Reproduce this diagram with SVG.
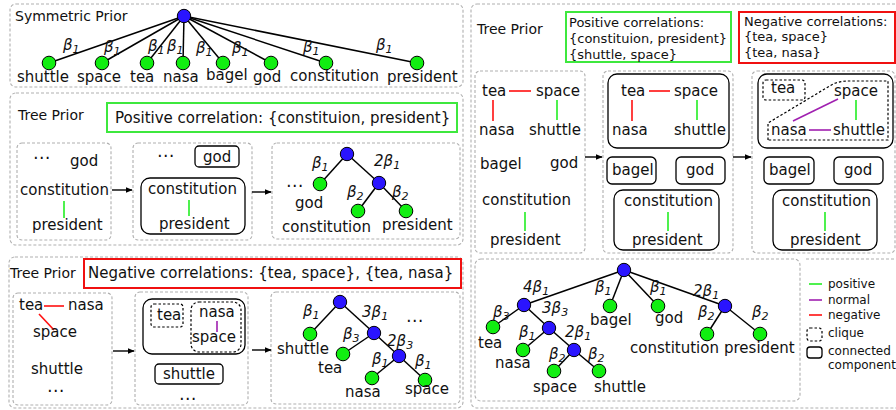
<svg xmlns="http://www.w3.org/2000/svg" width="896" height="410" viewBox="0 0 896 410">
<defs>
<style>
text{font-family:"DejaVu Sans","Liberation Sans",sans-serif;font-size:15px;fill:#111}
.h{font-size:14px}
.sm{font-size:13px}
.lg{font-size:12px}
.dots{font-size:17px}
.b{font-style:italic}
.panel{fill:none;stroke:#b0b0b0;stroke-width:1.1;stroke-dasharray:3 2}
.cc{fill:none;stroke:#000;stroke-width:1.3}
.cl{fill:none;stroke:#000;stroke-width:1.2;stroke-dasharray:2.5 2}
.gbox{fill:none;stroke:#3ee83e;stroke-width:2}
.rbox{fill:none;stroke:#f01010;stroke-width:2}
.e{stroke:#000;stroke-width:1.5}
.pos{stroke:#22ee22;stroke-width:1.6}
.neg{stroke:#ff1010;stroke-width:1.6}
.nor{stroke:#a020b0;stroke-width:1.6}
.g{fill:#11ee11;stroke:#000;stroke-width:1}
.bl{fill:#2a14ff;stroke:#000;stroke-width:1}
.ar{stroke:#000;stroke-width:1.4;marker-end:url(#ah)}
</style>
<marker id="ah" viewBox="0 0 10 10" refX="9" refY="5" markerWidth="7" markerHeight="7" markerUnits="userSpaceOnUse" orient="auto"><path d="M0,1 L10,5 L0,9 z" fill="#000"/></marker>
</defs>

<!-- panels -->
<g id="panels">
<rect class="panel" x="10" y="4" width="453" height="83" rx="6"/>
<rect class="panel" x="10" y="93" width="453" height="152" rx="6"/>
<rect class="panel" x="17" y="143" width="94" height="97" rx="5"/>
<rect class="panel" x="133" y="143" width="119" height="97" rx="5"/>
<rect class="panel" x="272" y="143" width="188" height="96" rx="5"/>
<rect class="panel" x="9" y="257" width="454" height="151" rx="6"/>
<rect class="panel" x="13" y="293" width="99" height="112" rx="5"/>
<rect class="panel" x="135" y="292" width="113" height="113" rx="5"/>
<rect class="panel" x="271" y="292" width="189" height="112" rx="5"/>
<rect class="panel" x="471" y="4" width="440" height="404" rx="6"/>
<rect class="panel" x="475" y="71" width="110" height="182" rx="5"/>
<rect class="panel" x="603" y="71" width="130" height="182" rx="5"/>
<rect class="panel" x="752" y="71" width="143" height="182" rx="5"/>
<rect class="panel" x="475" y="259" width="325" height="142" rx="6"/>
<path class="panel" d="M806 259 H896"/>
</g>

<!-- connectors -->
<g id="connectors">
<!-- symmetric prior -->
<line class="e" x1="184" y1="16" x2="49" y2="63"/>
<line class="e" x1="184" y1="16" x2="102" y2="63"/>
<line class="e" x1="184" y1="16" x2="147" y2="63"/>
<line class="e" x1="184" y1="16" x2="183" y2="63"/>
<line class="e" x1="184" y1="16" x2="223" y2="63"/>
<line class="e" x1="184" y1="16" x2="271" y2="63"/>
<line class="e" x1="184" y1="16" x2="326" y2="63"/>
<line class="e" x1="184" y1="16" x2="417" y2="63"/>
<!-- positive panel -->
<line class="pos" x1="64" y1="201" x2="64" y2="218"/>
<line class="pos" x1="189" y1="200" x2="189" y2="216"/>
<line class="ar" x1="112" y1="190" x2="132" y2="190"/>
<line class="ar" x1="252" y1="192" x2="271" y2="192"/>
<line class="e" x1="347" y1="154" x2="320" y2="184"/>
<line class="e" x1="347" y1="154" x2="379" y2="183"/>
<line class="e" x1="379" y1="183" x2="358" y2="211"/>
<line class="e" x1="379" y1="183" x2="406" y2="211"/>
<!-- negative panel -->
<line class="neg" x1="44" y1="306" x2="64" y2="306"/>
<line class="neg" x1="39" y1="314" x2="54" y2="330"/>
<line class="nor" x1="217" y1="321" x2="217" y2="332"/>
<line class="ar" x1="113" y1="351" x2="134" y2="351"/>
<line class="ar" x1="252" y1="350" x2="271" y2="350"/>
<line class="e" x1="340" y1="302" x2="310" y2="334"/>
<line class="e" x1="340" y1="302" x2="374" y2="333"/>
<line class="e" x1="374" y1="333" x2="343" y2="354"/>
<line class="e" x1="374" y1="333" x2="399" y2="356"/>
<line class="e" x1="399" y1="356" x2="372" y2="378"/>
<line class="e" x1="399" y1="356" x2="425" y2="380"/>
<!-- right top -->
<line class="neg" x1="509" y1="91" x2="531" y2="91"/>
<line class="neg" x1="493" y1="100" x2="493" y2="121"/>
<line class="pos" x1="557" y1="100" x2="557" y2="120"/>
<line class="pos" x1="525" y1="212" x2="525" y2="231"/>
<line class="ar" x1="585" y1="157" x2="602" y2="157"/>
<line class="neg" x1="649" y1="91" x2="670" y2="91"/>
<line class="neg" x1="632" y1="100" x2="632" y2="121"/>
<line class="pos" x1="697" y1="100" x2="697" y2="120"/>
<line class="pos" x1="668" y1="212" x2="668" y2="231"/>
<line class="ar" x1="733" y1="157" x2="751" y2="157"/>
<line class="pos" x1="856" y1="100" x2="856" y2="120"/>
<line class="nor" x1="793" y1="121" x2="838" y2="99"/>
<line class="nor" x1="809" y1="130" x2="831" y2="130"/>
<line class="pos" x1="825" y1="212" x2="825" y2="231"/>
<!-- right bottom tree -->
<line class="e" x1="624" y1="270" x2="524" y2="305"/>
<line class="e" x1="624" y1="270" x2="610" y2="306"/>
<line class="e" x1="624" y1="270" x2="658" y2="306"/>
<line class="e" x1="624" y1="270" x2="725" y2="306"/>
<line class="e" x1="524" y1="305" x2="493" y2="327"/>
<line class="e" x1="524" y1="305" x2="549" y2="328"/>
<line class="e" x1="549" y1="328" x2="523" y2="350"/>
<line class="e" x1="549" y1="328" x2="574" y2="350"/>
<line class="e" x1="574" y1="350" x2="554" y2="371"/>
<line class="e" x1="574" y1="350" x2="599" y2="371"/>
<line class="e" x1="725" y1="306" x2="707" y2="334"/>
<line class="e" x1="725" y1="306" x2="760" y2="334"/>
</g>

<!-- symmetric prior -->
<g id="symmetric-prior">
<text class="h" x="15" y="21">Symmetric Prior</text>
<circle class="bl" cx="184" cy="16" r="6.7"/>
<circle class="g" cx="49" cy="63" r="6.8"/>
<circle class="g" cx="102" cy="63" r="6.8"/>
<circle class="g" cx="147" cy="63" r="6.8"/>
<circle class="g" cx="183" cy="63" r="6.8"/>
<circle class="g" cx="223" cy="63" r="6.8"/>
<circle class="g" cx="271" cy="63" r="6.8"/>
<circle class="g" cx="326" cy="63" r="6.8"/>
<circle class="g" cx="417" cy="63" r="6.8"/>
<text class="b" x="63" y="50">β<tspan dy="3" font-size="11">1</tspan></text>
<text class="b" x="104" y="52">β<tspan dy="3" font-size="11">1</tspan></text>
<text class="b" x="148" y="51">β<tspan dy="3" font-size="11">1</tspan></text>
<text class="b" x="167" y="51">β<tspan dy="3" font-size="11">1</tspan></text>
<text class="b" x="196" y="53">β<tspan dy="3" font-size="11">1</tspan></text>
<text class="b" x="232" y="53">β<tspan dy="3" font-size="11">1</tspan></text>
<text class="b" x="303" y="52">β<tspan dy="3" font-size="11">1</tspan></text>
<text class="b" x="376" y="50">β<tspan dy="3" font-size="11">1</tspan></text>
<text x="17" y="82">shuttle</text>
<text x="77" y="82">space</text>
<text x="130" y="82">tea</text>
<text x="163" y="82">nasa</text>
<text x="206" y="80">bagel</text>
<text x="253" y="82">god</text>
<text x="290" y="81">constitution</text>
<text x="387" y="82">president</text>
</g>

<!-- positive tree prior -->
<g id="positive-prior">
<text class="h" x="18" y="120">Tree Prior</text>
<rect class="gbox" x="107" y="103" width="350" height="29"/>
<text x="115" y="123">Positive correlation: {constituion, president}</text>
</g>
<g id="pos-step1">
<text class="dots" x="33" y="163">⋯</text>
<text x="70" y="166">god</text>
<text x="20" y="195">constitution</text>
<text x="32" y="230">president</text>
</g>
<g id="pos-step2">
<text class="dots" x="157" y="161">⋯</text>
<rect class="cc" x="195" y="146" width="44" height="21" rx="4"/>
<text x="203" y="162">god</text>
<rect class="cc" x="141" y="178" width="104" height="56" rx="9"/>
<text x="148" y="194">constitution</text>
<text x="159" y="229">president</text>
</g>
<g id="pos-step3">
<circle class="bl" cx="347" cy="154" r="6.7"/>
<circle class="g" cx="320" cy="184" r="6.8"/>
<circle class="bl" cx="379" cy="183" r="6.7"/>
<circle class="g" cx="358" cy="211" r="6.8"/>
<circle class="g" cx="406" cy="211" r="6.8"/>
<text class="b" x="312" y="168">β<tspan dy="3" font-size="11">1</tspan></text>
<text class="b" x="374" y="166">2β<tspan dy="3" font-size="11">1</tspan></text>
<text class="b" x="347" y="197">β<tspan dy="3" font-size="11">2</tspan></text>
<text class="b" x="392" y="197">β<tspan dy="3" font-size="11">2</tspan></text>
<text class="dots" x="286" y="191">⋯</text>
<text x="295" y="208">god</text>
<text x="282" y="232">constitution</text>
<text x="382" y="230">president</text>
</g>

<!-- negative tree prior -->
<g id="negative-prior">
<text class="h" x="10" y="278">Tree Prior</text>
<rect class="rbox" x="84" y="259" width="377" height="29"/>
<text x="88" y="278">Negative correlations: {tea, space}, {tea, nasa}</text>
</g>
<g id="neg-step1">
<text x="19" y="310">tea</text>
<text x="68" y="310">nasa</text>
<text x="33" y="337">space</text>
<text x="31" y="374">shuttle</text>
<text class="dots" x="47" y="396">⋯</text>
</g>
<g id="neg-step2">
<rect class="cc" x="143" y="299" width="102" height="55" rx="9"/>
<rect class="cl" x="151" y="304" width="32" height="23" rx="3"/>
<text x="157" y="320">tea</text>
<rect class="cl" x="191" y="302" width="50" height="50" rx="8"/>
<text x="199" y="317">nasa</text>
<text x="192" y="342">space</text>
<rect class="cc" x="155" y="364" width="68" height="20" rx="4"/>
<text x="163" y="379">shuttle</text>
<text class="dots" x="179" y="404">⋯</text>
</g>
<g id="neg-step3">
<circle class="bl" cx="340" cy="302" r="6.7"/>
<circle class="g" cx="310" cy="334" r="6.8"/>
<circle class="bl" cx="374" cy="333" r="6.7"/>
<circle class="g" cx="343" cy="354" r="6.8"/>
<circle class="bl" cx="399" cy="356" r="6.7"/>
<circle class="g" cx="372" cy="378" r="6.8"/>
<circle class="g" cx="425" cy="380" r="6.8"/>
<text class="b" x="303" y="316">β<tspan dy="3" font-size="11">1</tspan></text>
<text class="b" x="362" y="317">3β<tspan dy="3" font-size="11">1</tspan></text>
<text class="b" x="343" y="339">β<tspan dy="3" font-size="11">3</tspan></text>
<text class="b" x="387" y="346">2β<tspan dy="3" font-size="11">3</tspan></text>
<text class="b" x="372" y="364">β<tspan dy="3" font-size="11">1</tspan></text>
<text class="b" x="415" y="366">β<tspan dy="3" font-size="11">1</tspan></text>
<text class="dots" x="406" y="326">⋯</text>
<text x="277" y="354">shuttle</text>
<text x="318" y="373">tea</text>
<text x="345" y="397">nasa</text>
<text x="405" y="394">space</text>
</g>

<!-- right: combined tree prior -->
<g id="combined-prior">
<text class="h" x="477" y="34">Tree Prior</text>
<rect class="gbox" x="566" y="12" width="165" height="50"/>
<text class="sm" x="569" y="27">Positive correlations:</text>
<text class="sm" x="569" y="43">{constituion, president}</text>
<text class="sm" x="569" y="59">{shuttle, space}</text>
<rect class="rbox" x="739" y="12" width="156" height="51"/>
<text class="sm" x="744" y="26">Negative correlations:</text>
<text class="sm" x="744" y="41">{tea, space}</text>
<text class="sm" x="744" y="57">{tea, nasa}</text>
</g>
<g id="comb-step1">
<text x="482" y="96">tea</text>
<text x="536" y="96">space</text>
<text x="479" y="135">nasa</text>
<text x="529" y="135">shuttle</text>
<text x="480" y="169">bagel</text>
<text x="550" y="168">god</text>
<text x="482" y="205">constitution</text>
<text x="490" y="245">president</text>
</g>
<g id="comb-step2">
<rect class="cc" x="608" y="74" width="121" height="74" rx="9"/>
<text x="621" y="96">tea</text>
<text x="674" y="96">space</text>
<text x="612" y="135">nasa</text>
<text x="674" y="135">shuttle</text>
<rect class="cc" x="607" y="157" width="49" height="27" rx="5"/>
<text x="612" y="175">bagel</text>
<rect class="cc" x="676" y="157" width="49" height="27" rx="5"/>
<text x="686" y="175">god</text>
<rect class="cc" x="614" y="190" width="105" height="60" rx="9"/>
<text x="624" y="206">constitution</text>
<text x="632" y="245">president</text>
</g>
<g id="comb-step3">
<rect class="cc" x="758" y="74" width="135" height="74" rx="9"/>
<rect class="cl" x="763" y="80" width="42" height="20" rx="3"/>
<text x="771" y="93">tea</text>
<path class="cl" d="M768 140 V123 L833 84 Q840 81 848 81 H888 V140 Z"/>
<text x="834" y="96">space</text>
<text x="771" y="135">nasa</text>
<text x="833" y="135">shuttle</text>
<rect class="cc" x="764" y="157" width="50" height="27" rx="5"/>
<text x="769" y="175">bagel</text>
<rect class="cc" x="834" y="157" width="49" height="27" rx="5"/>
<text x="844" y="175">god</text>
<rect class="cc" x="773" y="190" width="104" height="60" rx="9"/>
<text x="782" y="206">constitution</text>
<text x="790" y="245">president</text>
</g>
<g id="comb-tree">
<circle class="bl" cx="624" cy="270" r="6.7"/>
<circle class="bl" cx="524" cy="305" r="6.7"/>
<circle class="g" cx="610" cy="306" r="6.8"/>
<circle class="g" cx="658" cy="306" r="6.8"/>
<circle class="bl" cx="725" cy="306" r="6.7"/>
<circle class="g" cx="493" cy="327" r="6.8"/>
<circle class="bl" cx="549" cy="328" r="6.7"/>
<circle class="g" cx="707" cy="334" r="6.8"/>
<circle class="g" cx="760" cy="334" r="6.8"/>
<circle class="g" cx="523" cy="350" r="6.8"/>
<circle class="bl" cx="574" cy="350" r="6.7"/>
<circle class="g" cx="554" cy="371" r="6.8"/>
<circle class="g" cx="599" cy="371" r="6.8"/>
<text class="b" x="523" y="292">4β<tspan dy="3" font-size="11">1</tspan></text>
<text class="b" x="595" y="292">β<tspan dy="3" font-size="11">1</tspan></text>
<text class="b" x="650" y="292">β<tspan dy="3" font-size="11">1</tspan></text>
<text class="b" x="693" y="296">2β<tspan dy="3" font-size="11">1</tspan></text>
<text class="b" x="493" y="317">β<tspan dy="3" font-size="11">3</tspan></text>
<text class="b" x="542" y="313">3β<tspan dy="3" font-size="11">3</tspan></text>
<text class="b" x="698" y="317">β<tspan dy="3" font-size="11">2</tspan></text>
<text class="b" x="752" y="317">β<tspan dy="3" font-size="11">2</tspan></text>
<text class="b" x="519" y="337">β<tspan dy="3" font-size="11">1</tspan></text>
<text class="b" x="565" y="337">2β<tspan dy="3" font-size="11">1</tspan></text>
<text class="b" x="549" y="359">β<tspan dy="3" font-size="11">2</tspan></text>
<text class="b" x="588" y="359">β<tspan dy="3" font-size="11">2</tspan></text>
<text x="590" y="325">bagel</text>
<text x="655" y="323">god</text>
<text x="478" y="348">tea</text>
<text x="495" y="368">nasa</text>
<text x="533" y="392">space</text>
<text x="594" y="392">shuttle</text>
<text x="630" y="353">constitution</text>
<text x="724" y="353">president</text>
</g>

<!-- legend -->
<g id="legend">
<line class="pos" x1="809" y1="284" x2="822" y2="284"/>
<text class="lg" x="828" y="288">positive</text>
<line class="nor" x1="809" y1="300" x2="822" y2="300"/>
<text class="lg" x="828" y="304">normal</text>
<line class="neg" x1="809" y1="315" x2="822" y2="315"/>
<text class="lg" x="828" y="319">negative</text>
<rect class="cl" x="807" y="328" width="15" height="13" rx="3"/>
<text class="lg" x="828" y="337">clique</text>
<rect class="cc" x="807" y="347" width="15" height="11" rx="3"/>
<text class="lg" x="828" y="355">connected</text>
<text class="lg" x="828" y="369">component</text>
</g>
</svg>
